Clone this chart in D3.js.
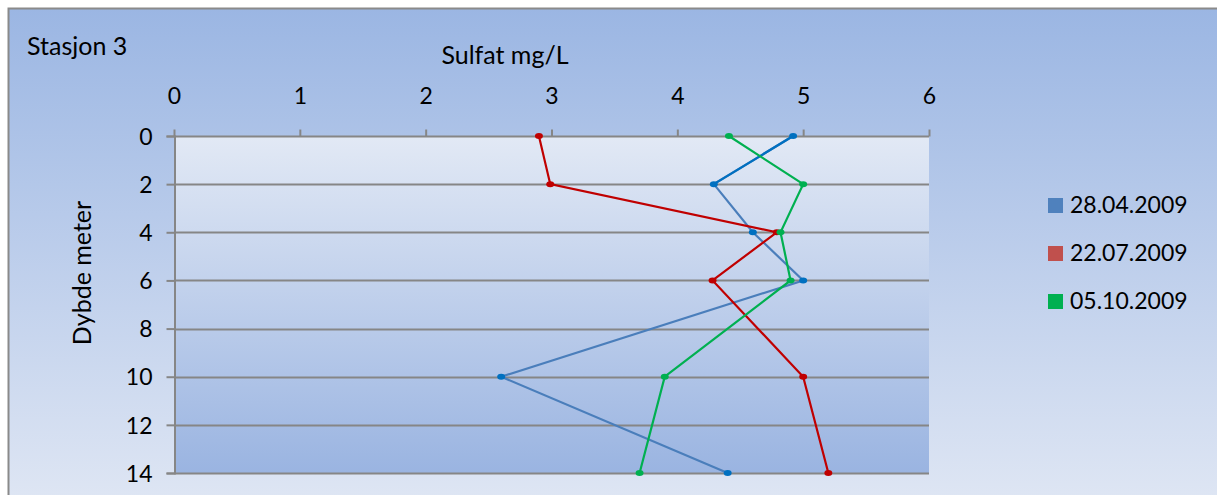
<!DOCTYPE html>
<html>
<head>
<meta charset="utf-8">
<script src="https://cdn.jsdelivr.net/npm/d3@7"></script>
<style>
  body { margin: 0; background: #fff; }
  svg text { font-family: Lato, "Noto Sans", sans-serif; fill: #000; }
</style>
</head>
<body>
<div id="chart"></div>
<script>
// depths (m) and sulfate readings (mg/L) per sampling date
var depths = [0, 2, 4, 6, 10, 14];
var s_apr = [4.92, 4.29, 4.60, 5.0, 2.60, 4.40];
var s_jul = [2.90, 2.99, 4.79, 4.28, 5.0, 5.20];
var s_oct = [4.41, 5.0, 4.82, 4.90, 3.90, 3.70];
var series_names = ['28.04.2009', '22.07.2009', '05.10.2009'];
var x_ticks = [0, 1, 2, 3, 4, 5, 6];
var y_ticks = [0, 2, 4, 6, 8, 10, 12, 14];

var W = 1217, H = 495;
var plot = { left: 174, right: 929, top: 136, bottom: 473 };

var svg = d3.select('#chart').append('svg')
    .attr('width', W)
    .attr('height', H);

var defs = svg.append('defs');
var g_out = defs.append('linearGradient').attr('id', 'bgOut')
    .attr('x1', 0).attr('y1', 0).attr('x2', 0).attr('y2', 1);
g_out.append('stop').attr('offset', '0%').attr('stop-color', '#9bb6e3');
g_out.append('stop').attr('offset', '100%').attr('stop-color', '#e0e7f4');

var g_in = defs.append('linearGradient').attr('id', 'bgIn')
    .attr('x1', 0).attr('y1', 0).attr('x2', 0).attr('y2', 1);
g_in.append('stop').attr('offset', '0%').attr('stop-color', '#e2e9f5');
g_in.append('stop').attr('offset', '100%').attr('stop-color', '#9ab4e1');

// chart area
svg.append('rect')
    .attr('x', 8.5).attr('y', 8.5)
    .attr('width', W + 10).attr('height', H + 10)
    .attr('fill', 'url(#bgOut)')
    .attr('stroke', '#8a8a8a')
    .attr('stroke-width', 2);

// scales
var x = d3.scaleLinear().domain([0, 6]).range([plot.left, plot.right]);
var y = d3.scaleLinear().domain([0, 14]).range([plot.top, plot.bottom]);

svg.append('rect')
    .attr('x', x(0)).attr('y', y(0))
    .attr('width', x(6) - x(0)).attr('height', y(14) - y(0))
    .attr('fill', 'url(#bgIn)');

// horizontal grid
svg.append('g')
  .selectAll('line')
  .data(y_ticks)
  .enter().append('line')
    .attr('x1', x(0)).attr('x2', x(6))
    .attr('y1', d => Math.round(y(d)) + 0.5)
    .attr('y2', d => Math.round(y(d)) + 0.5)
    .attr('stroke', '#868686')
    .attr('stroke-width', 2);

// top axis
var ax_x = d3.axisTop(x)
    .tickValues(x_ticks)
    .tickSize(7)
    .tickPadding(26)
    .tickFormat(d3.format('d'));

var gx = svg.append('g')
    .attr('transform', 'translate(0,' + (Math.round(y(0)) + 0.5) + ')')
    .call(ax_x);
gx.select('.domain').remove();
gx.selectAll('line').attr('stroke', '#868686').attr('stroke-width', 2);
gx.selectAll('text').style('font-size', '23px');

// left axis
var ax_y = d3.axisLeft(y)
    .tickValues(y_ticks)
    .tickSize(8)
    .tickPadding(14)
    .tickFormat(d3.format('d'));

var gy = svg.append('g')
    .attr('transform', 'translate(' + (x(0) + 0.5) + ',0)')
    .call(ax_y);
gy.select('.domain').attr('stroke', '#868686').attr('stroke-width', 2);
gy.selectAll('line').attr('stroke', '#868686').attr('stroke-width', 2);
gy.selectAll('text').style('font-size', '23px').attr('dy', '0.36em');

// titles
svg.append('text')
    .attr('x', 27).attr('y', 55)
    .style('font-size', '25px')
    .text('Stasjon 3');

svg.append('text')
    .attr('x', 505).attr('y', 64)
    .attr('text-anchor', 'middle')
    .style('font-size', '25px')
    .text('Sulfat mg/L');

svg.append('text')
    .attr('transform', 'translate(91,273) rotate(-90)')
    .attr('text-anchor', 'middle')
    .style('font-size', '25px')
    .text('Dybde meter');

// lines
var line = d3.line()
    .x(d => x(d[1]))
    .y(d => y(d[0]));

var series = [
  { vals: s_apr, line: '#4a7ebb', mark: '#0070c0', key: '#4f81bd' },
  { vals: s_jul, line: '#c00000', mark: '#c00000', key: '#c0504d' },
  { vals: s_oct, line: '#00b050', mark: '#00b050', key: '#00b050' }
];

series.forEach(function (s, i) {
  var pts = depths.map((d, j) => [d, s.vals[j]]);
  svg.append('path')
      .datum(pts)
      .attr('d', line)
      .attr('fill', 'none')
      .attr('stroke', s.line)
      .attr('stroke-width', 2.2);
  if (i === 0) {
    // first segment drawn darker in the source
    svg.append('path')
        .datum(pts.slice(0, 2))
        .attr('d', line)
        .attr('fill', 'none')
        .attr('stroke', '#0070c0')
        .attr('stroke-width', 2.2);
  }
  svg.append('g')
    .selectAll('ellipse')
    .data(pts)
    .enter().append('ellipse')
      .attr('cx', d => x(d[1]))
      .attr('cy', d => y(d[0]))
      .attr('rx', 4).attr('ry', 3)
      .attr('fill', s.mark);
});

// legend
var leg = svg.append('g')
    .selectAll('g')
    .data(series)
    .enter().append('g')
      .attr('transform', (d, i) => 'translate(1048,' + (205 + i * 48) + ')');

leg.append('rect')
    .attr('x', 0).attr('y', -7)
    .attr('width', 15).attr('height', 15)
    .attr('fill', d => d.key);

leg.append('text')
    .attr('x', 22).attr('y', 0)
    .attr('dy', '0.36em')
    .style('font-size', '23px')
    .text((d, i) => series_names[i]);
</script>
</body>
</html>
